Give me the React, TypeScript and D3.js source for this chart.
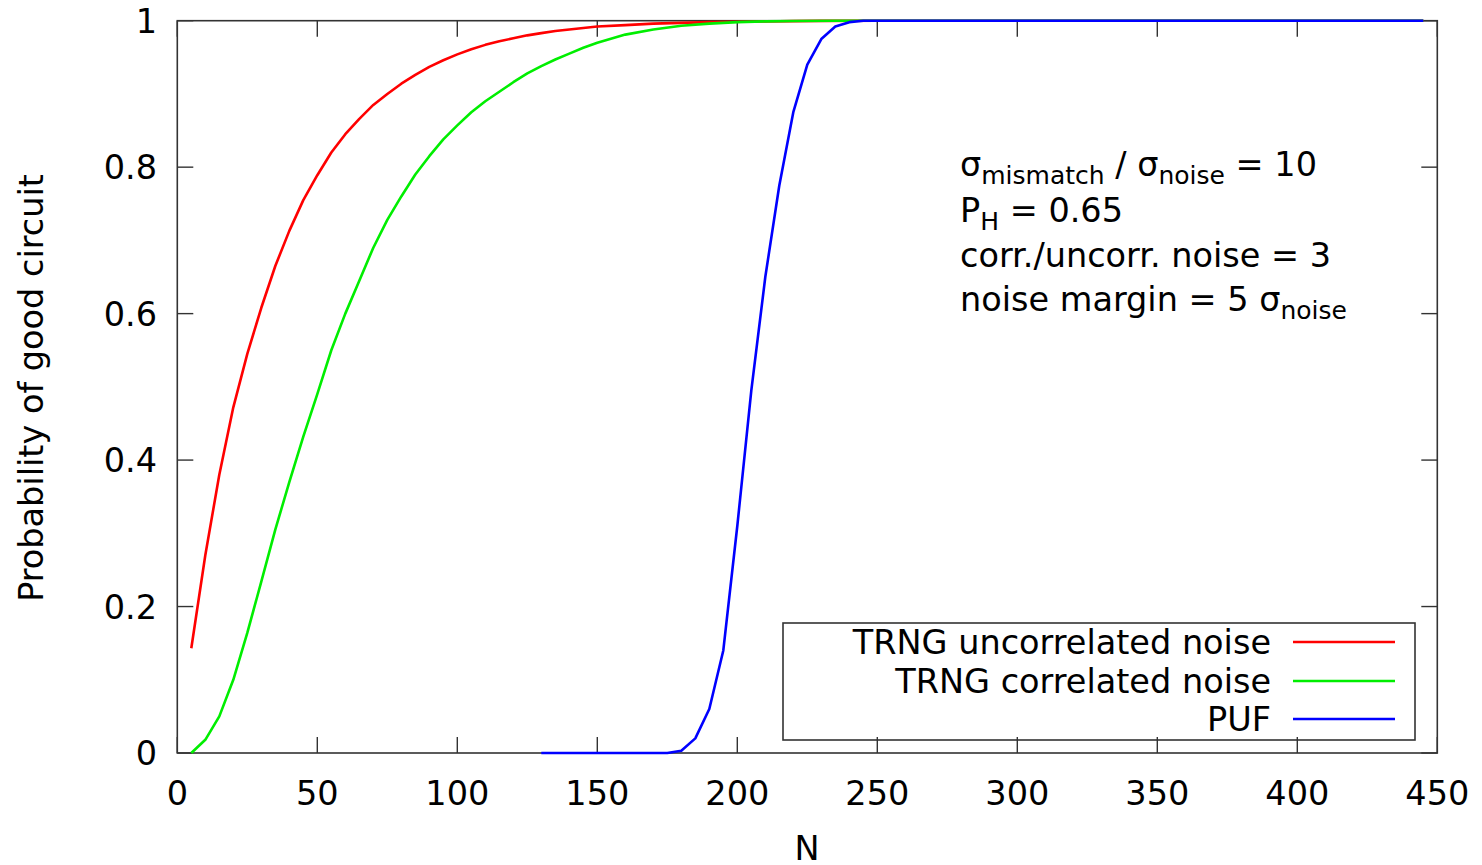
import React from "react";
import * as d3 from "d3";

// ---- data ----
const redN = [5,10,15,20,25,30,35,40,45,50,55,60,65,70,75,80,85,90,95,100,105,110,115,120,125,130,135,140,145,150,160,170,180,190,200,210,220,230,250,445];
const redP = [0.143,0.27,0.38,0.472,0.545,0.608,0.665,0.713,0.755,0.789,0.82,0.845,0.866,0.885,0.9,0.914,0.926,0.937,0.946,0.954,0.961,0.967,0.972,0.976,0.98,0.983,0.986,0.988,0.99,0.992,0.994,0.996,0.997,0.998,0.9986,0.999,0.9994,0.9997,1,1];

const greenN = [5,10,15,20,25,30,35,40,45,50,55,60,65,70,75,80,85,90,95,100,105,110,115,120,125,130,135,140,145,150,160,170,180,190,200,210,220,235,445];
const greenP = [0,0.018,0.05,0.1,0.164,0.234,0.305,0.37,0.432,0.49,0.55,0.6,0.645,0.69,0.728,0.76,0.79,0.815,0.838,0.857,0.875,0.89,0.903,0.916,0.928,0.938,0.947,0.955,0.963,0.97,0.981,0.988,0.993,0.996,0.998,0.9991,0.9996,1,1];

const blueN = [130,175,180,185,190,195,200,205,210,215,220,225,230,235,240,245,445];
const blueP = [0,0,0.003,0.02,0.06,0.14,0.31,0.495,0.65,0.775,0.875,0.94,0.975,0.992,0.998,1,1];

const xTicks = [0,50,100,150,200,250,300,350,400,450];
const yTicks = [0,0.2,0.4,0.6,0.8,1];
const yTickLabels = ["0","0.2","0.4","0.6","0.8","1"];

const seriesNames = ["TRNG uncorrelated noise","TRNG correlated noise","PUF"];
const seriesColors = ["#ff0000","#00ee00","#0000ff"];

export default function App() {
  const W = 1482, H = 865;
  const x0 = 177.3, x1 = 1437.3, y0 = 753, y1 = 20.7;
  const x = d3.scaleLinear().domain([0, 450]).range([x0, x1]);
  const y = d3.scaleLinear().domain([0, 1]).range([y0, y1]);
  const line = d3.line<[number, number]>().x(d => x(d[0])).y(d => y(d[1]));
  const series = [
    redN.map((n, i) => [n, redP[i]] as [number, number]),
    greenN.map((n, i) => [n, greenP[i]] as [number, number]),
    blueN.map((n, i) => [n, blueP[i]] as [number, number]),
  ];
  const font = "'DejaVu Sans', sans-serif";
  const fs = 33.5;
  const subFs = 25;
  const tick = 16;
  const axisColor = "#333";

  const legX0 = 783, legX1 = 1415, legY0 = 623, legY1 = 740;
  const legRows = [642, 681, 719];

  return (
    <svg width={W} height={H} style={{ position: "absolute", left: 0, top: 0 }} fontFamily={font}>
      <rect x={0} y={0} width={W} height={H} fill="#fff" />
      {/* frame */}
      <rect x={x0} y={y1} width={x1 - x0} height={y0 - y1} fill="none" stroke={axisColor} strokeWidth={1.6} />
      {xTicks.map(t => (
        <g key={"xt" + t}>
          <line x1={x(t)} x2={x(t)} y1={y0} y2={y0 - tick} stroke={axisColor} strokeWidth={1.4} />
          <line x1={x(t)} x2={x(t)} y1={y1} y2={y1 + tick} stroke={axisColor} strokeWidth={1.4} />
          <text x={x(t)} y={y0 + 52} fontSize={fs} textAnchor="middle" fill="#000">{t}</text>
        </g>
      ))}
      {yTicks.map((t, i) => (
        <g key={"yt" + t}>
          <line x1={x0} x2={x0 + tick} y1={y(t)} y2={y(t)} stroke={axisColor} strokeWidth={1.4} />
          <line x1={x1} x2={x1 - tick} y1={y(t)} y2={y(t)} stroke={axisColor} strokeWidth={1.4} />
          <text x={157} y={y(t) + 12} fontSize={fs} textAnchor="end" fill="#000">{yTickLabels[i]}</text>
        </g>
      ))}
      <text x={807} y={860} fontSize={fs} textAnchor="middle" fill="#000">N</text>
      <text transform={`translate(43,388) rotate(-90)`} fontSize={fs} textAnchor="middle" fill="#000">Probability of good circuit</text>

      {/* curves */}
      {series.map((s, i) => (
        <path key={"s" + i} d={line(s) || ""} fill="none" stroke={seriesColors[i]} strokeWidth={2.6} strokeLinejoin="round" />
      ))}

      {/* annotation */}
      <g fontSize={fs} fill="#000">
        <text x={960} y={176}>
          σ<tspan fontSize={subFs} dy={8}>mismatch</tspan><tspan dy={-8}> / σ</tspan><tspan fontSize={subFs} dy={8}>noise</tspan><tspan dy={-8}> = 10</tspan>
        </text>
        <text x={960} y={222}>
          P<tspan fontSize={subFs} dy={8}>H</tspan><tspan dy={-8}> = 0.65</tspan>
        </text>
        <text x={960} y={267}>corr./uncorr. noise = 3</text>
        <text x={960} y={311}>
          noise margin = 5 σ<tspan fontSize={subFs} dy={8}>noise</tspan>
        </text>
      </g>

      {/* legend */}
      <rect x={legX0} y={legY0} width={legX1 - legX0} height={legY1 - legY0} fill="none" stroke={axisColor} strokeWidth={1.6} />
      {seriesNames.map((n, i) => (
        <g key={"lg" + i}>
          <text x={1271} y={legRows[i] + 12} fontSize={fs} textAnchor="end" fill="#000">{n}</text>
          <line x1={1293} x2={1395} y1={legRows[i]} y2={legRows[i]} stroke={seriesColors[i]} strokeWidth={2.6} />
        </g>
      ))}
    </svg>
  );
}
